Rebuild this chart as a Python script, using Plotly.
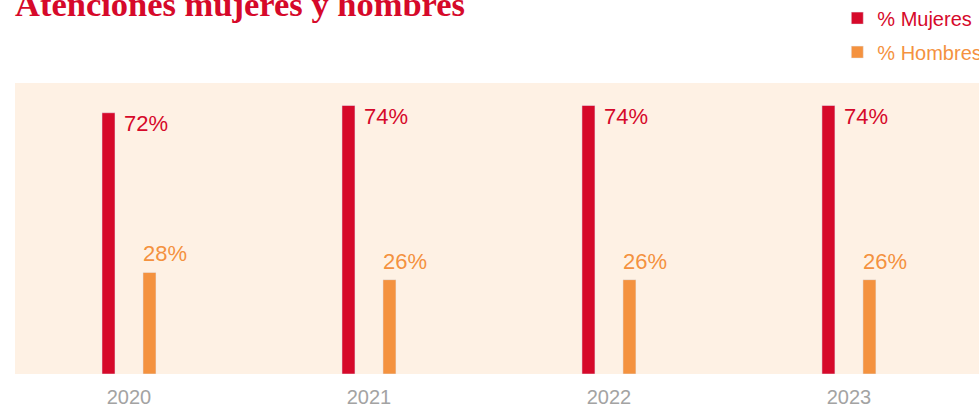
import plotly.graph_objects as go

years = ["2020", "2021", "2022", "2023"]
mujeres = [72, 74, 74, 74]
hombres = [28, 26, 26, 26]
mujeres_labels = ["72%", "74%", "74%", "74%"]
hombres_labels = ["28%", "26%", "26%", "26%"]

RED = "#D6092A"
ORANGE = "#F4923F"
BG = "#FEF1E4"
FONT = "Liberation Sans, Arial, sans-serif"

fig = go.Figure()
fig.add_trace(go.Bar(x=years, y=mujeres, name=f"<span style='color:{RED}'>% Mujeres</span>",
                     marker_color=RED, offset=-0.1125, width=0.0542, legendgroup="m",
                     hoverinfo="skip"))
fig.add_trace(go.Bar(x=years, y=hombres, name=f"<span style='color:{ORANGE}'>% Hombres</span>",
                     marker_color=ORANGE, offset=0.0583, width=0.0542, legendgroup="h",
                     hoverinfo="skip"))

for i, (v, t) in enumerate(zip(mujeres, mujeres_labels)):
    fig.add_annotation(x=i, y=v, text=t, showarrow=False, xanchor="left", yanchor="top",
                       xshift=-7, yshift=4, font=dict(family=FONT, size=22, color=RED))
for i, (v, t) in enumerate(zip(hombres, hombres_labels)):
    fig.add_annotation(x=i, y=v, text=t, showarrow=False, xanchor="left", yanchor="bottom",
                       xshift=12, yshift=4, font=dict(family=FONT, size=22, color=ORANGE))

fig.add_annotation(xref="paper", yref="paper", x=0, y=1, xanchor="left", yanchor="bottom",
                   xshift=-2, yshift=58, showarrow=False, text="<b>Atenciones mujeres y hombres</b>",
                   font=dict(family="Liberation Serif, Times New Roman, serif", size=34.5, color=RED))

fig.update_layout(
    width=979, height=406,
    margin=dict(l=15, r=0, t=83, b=32, autoexpand=False),
    paper_bgcolor="white", plot_bgcolor=BG,
    barmode="overlay",
    showlegend=True,
    legend=dict(x=0.853, xanchor="left", y=1.29, yanchor="top", bgcolor="rgba(0,0,0,0)",
                tracegroupgap=5, font=dict(family=FONT, size=20),
                itemclick=False, itemdoubleclick=False),
    xaxis=dict(type="category", range=[-0.475, 3.542], showgrid=False, zeroline=False,
               showline=False, ticks="", ticklabelstandoff=9,
               tickfont=dict(family=FONT, size=20, color="#A3A3A3")),
    yaxis=dict(range=[0, 80.2], showgrid=False, zeroline=False, showline=False,
               showticklabels=False, ticks=""),
)

fig.write_html("out.html", config={"displayModeBar": False},
               post_script="document.body.style.margin='0';document.body.style.overflow='hidden';")
